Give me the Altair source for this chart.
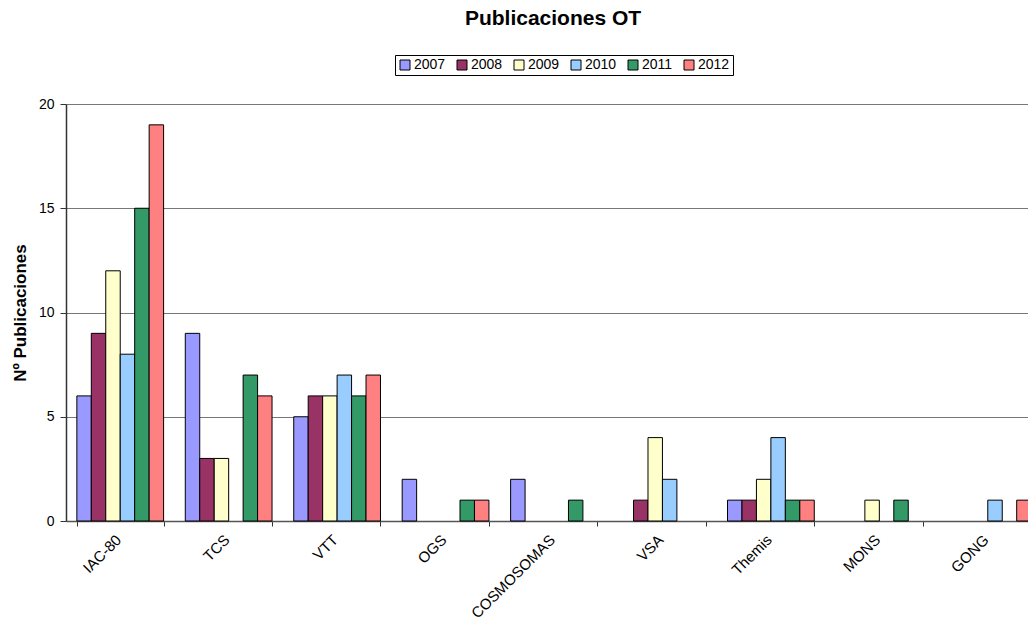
import altair as alt
import pandas as pd

categories = ["IAC-80", "TCS", "VTT", "OGS", "COSMOSOMAS", "VSA", "Themis", "MONS", "GONG"]
years = ["2007", "2008", "2009", "2010", "2011", "2012"]
v2007 = [6, 9, 5, 2, 2, 0, 1, 0, 0]
v2008 = [9, 3, 6, 0, 0, 1, 1, 0, 0]
v2009 = [12, 3, 6, 0, 0, 4, 2, 1, 0]
v2010 = [8, 0, 7, 0, 0, 2, 4, 0, 1]
v2011 = [15, 7, 6, 1, 1, 0, 1, 1, 0]
v2012 = [19, 6, 7, 1, 0, 0, 1, 0, 1]
colors = ["#9999FF", "#993366", "#FFFFCC", "#99CCFF", "#339966", "#FF8080"]

series = [v2007, v2008, v2009, v2010, v2011, v2012]
rows = []
for yr, vals in zip(years, series):
    for c, v in zip(categories, vals):
        rows.append({"Instrumento": c, "Año": yr, "value": v})
df = pd.DataFrame(rows)

FONT = "Liberation Sans"

bars = alt.Chart(df).transform_filter("datum.value > 0").mark_bar(
    stroke="black", strokeWidth=1
).encode(
    x=alt.X("Instrumento:N", sort=categories,
            scale=alt.Scale(paddingInner=0.2, paddingOuter=0.1, range=[0, 976]),
            axis=alt.Axis(title=None, labelAngle=-45, labelAlign="right", labelBaseline="top",
                          labelFontSize=15, labelFont=FONT, labelColor="black", labelOffset=-7,
                          tickBand="extent", tickSize=5, tickColor="#333",
                          domainColor="#555", domainWidth=1.5, labelPadding=6, grid=False)),
    xOffset=alt.XOffset("Año:N", sort=years, scale=alt.Scale(domain=years, paddingInner=0, paddingOuter=0)),
    y=alt.Y("value:Q", scale=alt.Scale(domain=[0, 20]),
            axis=alt.Axis(title="Nº Publicaciones", values=[0, 5, 10, 15, 20],
                          titleFont=FONT, titleFontSize=17, titleFontWeight="bold", titleColor="black",
                          titlePadding=9, labelFont=FONT, labelFontSize=14, labelColor="black",
                          tickSize=6, tickColor="#333", domainColor="#333", domainWidth=1.5,
                          gridColor="#777777", gridWidth=1.2, labelPadding=6)),
    color=alt.Color("Año:N", sort=years,
                    scale=alt.Scale(domain=years, range=colors),
                    legend=alt.Legend(title=None, orient="none", legendX=329, legendY=-49,
                                      direction="horizontal", columns=6,
                                      symbolType="square", symbolSize=100, symbolStrokeColor="black",
                                      symbolStrokeWidth=1, symbolOpacity=1,
                                      labelFont=FONT, labelFontSize=14, labelColor="black",
                                      labelOffset=2, columnPadding=9,
                                      strokeColor="black", padding=3)),
)

chart = bars.properties(
    width=962, height=417,
    title=alt.TitleParams("Publicaciones OT", font=FONT, fontSize=21, fontWeight="bold",
                          color="black", anchor="middle", offset=9, dx=6, baseline="alphabetic"),
    autosize=alt.AutoSizeParams(type="none"),
    padding={"left": 58, "top": 96, "right": 0, "bottom": 102},
).configure_view(stroke=None)

chart.save("out.html", embed_options={"renderer": "svg", "actions": False})
